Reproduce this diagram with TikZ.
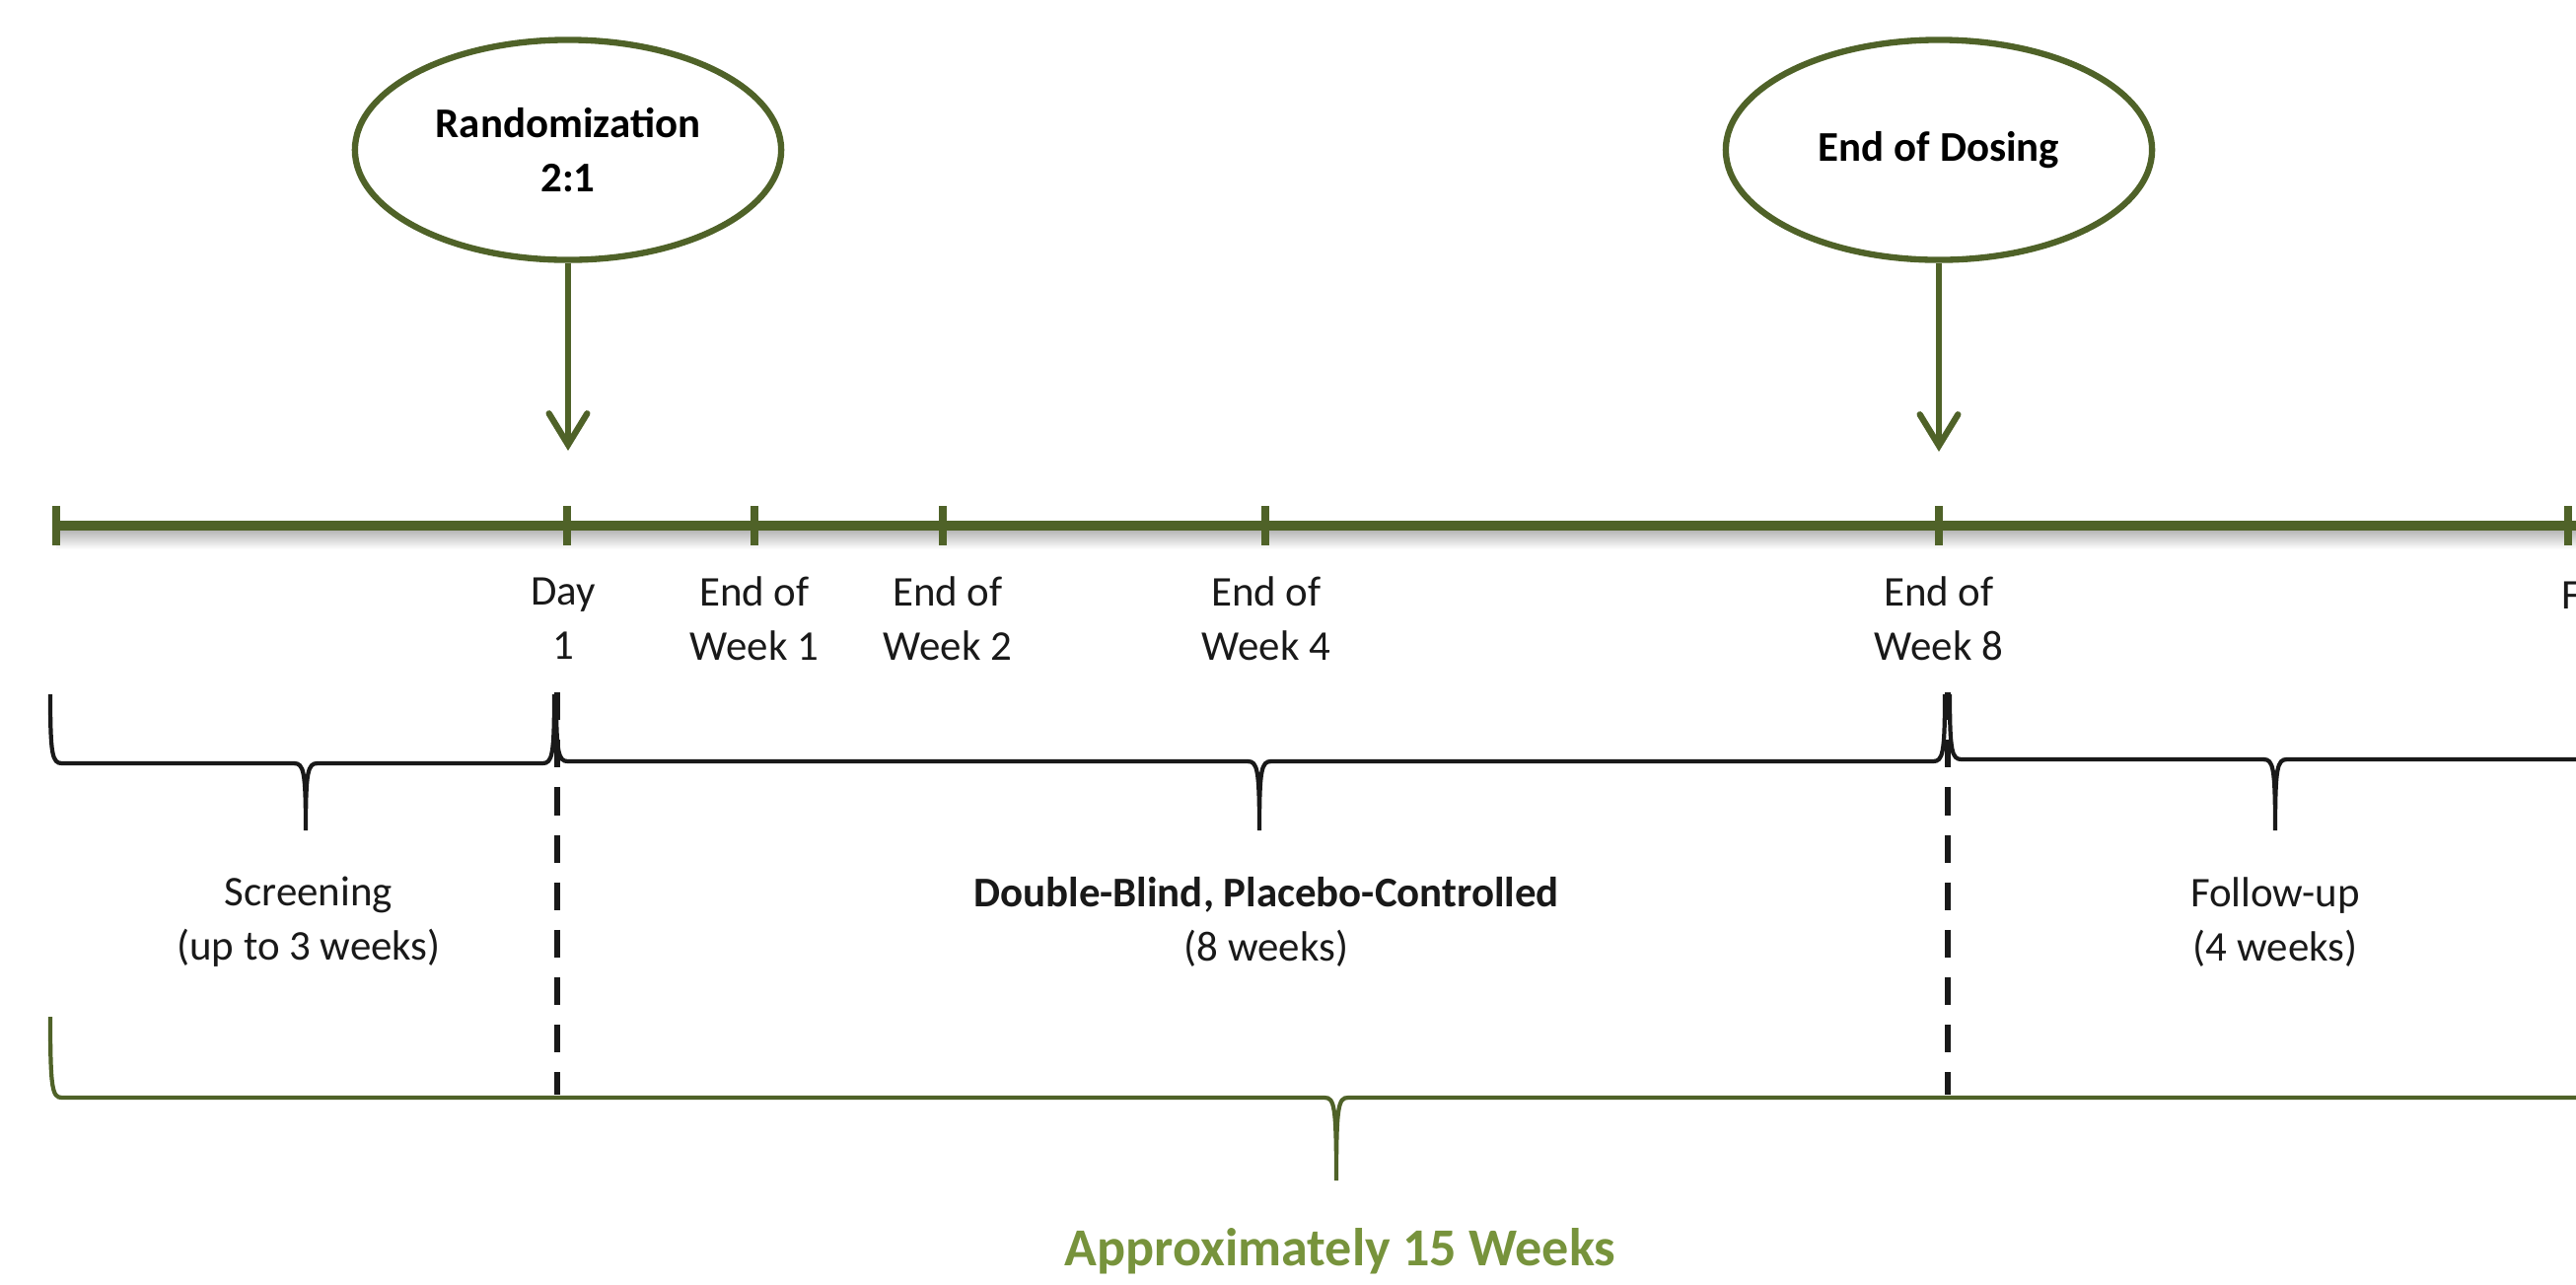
\documentclass[tikz,border=0pt]{standalone}
\usepackage{fontspec}
\setmainfont{Carlito}
\usepackage{xcolor}
\usepackage{tikz}
\usetikzlibrary{arrows.meta,positioning,calc,shapes.geometric}
\definecolor{dosegreen}{HTML}{4F6228}
\definecolor{spangreen}{HTML}{77933C}
% [style] x0, xmid, x1, ytop, ybar, ytip
\newcommand{\spanbrace}[7][]{%
  \draw[#1] (#2,#5) .. controls (#2,#6-8) and (#2+2,#6) .. (#2+12,#6)
    -- (#3-12,#6) .. controls (#3-2,#6) and (#3,#6+8) .. (#3,#7)
    .. controls (#3,#6+8) and (#3+2,#6) .. (#3+12,#6)
    -- (#4-12,#6) .. controls (#4-2,#6) and (#4,#6-8) .. (#4,#5);}

\begin{document}
\begin{tikzpicture}[
  x=0.01cm, y=-0.01cm,
  font=\fontsize{12.2}{15.6}\selectfont,
  event/.style={ellipse, draw=dosegreen, line width=1.8pt, minimum width=4.32cm,
                minimum height=2.23cm, inner sep=0pt, align=center,
                font=\fontsize{12.2}{15.6}\selectfont\bfseries},
  drop/.style={-{Straight Barb[length=9pt,width=11pt,line cap=round]},
               dosegreen, line width=1.8pt},
  tl/.style={dosegreen, line width=2.85pt},
  tick/.style={dosegreen, line width=2.3pt},
  lbl/.style={align=center, text=black!90},
  brc/.style={black!90, line width=1.2pt},
  gbrc/.style={dosegreen, line width=1.2pt},
  sep/.style={black!90, line width=1.7pt, dash pattern=on 8pt off 5.7pt}
]
  \useasboundingbox (0,0) rectangle (2612,1302);
  \clip (0,0) rectangle (2612,1302);
  \def\xs{57} \def\xd{575} \def\xa{765} \def\xb{956} \def\xc{1283} \def\xe{1966} \def\xf{2604}

  % events
  \node[event] (rand) at (576,152) {Randomization\\2:1};
  \node[event] (eod) at (\xe,152) {End of Dosing};
  \coordinate (rtip) at (576,457);
  \coordinate (etip) at (\xe,458);
  \draw[drop] (rand.south) -- (rtip);
  \draw[drop] (eod.south) -- (etip);

  % timeline
  \coordinate (t0) at (\xs,533);
  \coordinate (t1) at (2640,533);
  \shade[top color=black!28, bottom color=white] (\xs,538) rectangle (2612,557);
  \draw[tl] (t0) -- (t1);
  \foreach \x in {\xs,\xd,\xa,\xb,\xc,\xe,\xf}
    \draw[tick] (\x,513) -- (\x,553);

  \node[lbl] (day1) at (571,627) {Day\\1};
  \node[lbl] (wk1) at (\xa,627) {End of\\Week 1};
  \node[lbl] (wk2) at (961,627) {End of\\Week 2};
  \node[lbl] (wk4) at (1284,627) {End of\\Week 4};
  \node[lbl] (wk8) at (\xe,627) {End of\\Week 8};
  \node[lbl, anchor=base west, inner sep=0pt] (fin) at (2597,617) {F};

  % periods
  \spanbrace[brc]{51}{310}{562}{704}{774}{842}
  \spanbrace[brc]{564}{1277}{1972}{704}{772}{842}
  \spanbrace[brc]{1977}{2307}{2637}{704}{770}{842}
  \coordinate (s1top) at (565,702);
  \coordinate (s1bot) at (565,1110);
  \coordinate (s2top) at (1975,702);
  \coordinate (s2bot) at (1975,1110);
  \draw[sep] (s1top) -- (s1bot);
  \draw[sep] (s2top) -- (s2bot);

  \node[lbl] (scr) at (313,935) {Screening\\(up to 3 weeks)};
  \node[lbl] (dbpc) at (1284,935) {\textbf{Double-Blind, Placebo-Controlled}\\(8 weeks)};
  \node[lbl] (fu) at (2307,935) {Follow-up\\(4 weeks)};

  % total
  \spanbrace[gbrc]{51}{1355}{2659}{1031}{1113}{1197}
  \node[font=\fontsize{15.4}{18}\selectfont\bfseries, text=spangreen] (total) at (1359,1269) {Approximately 15 Weeks};
\end{tikzpicture}
\end{document}
